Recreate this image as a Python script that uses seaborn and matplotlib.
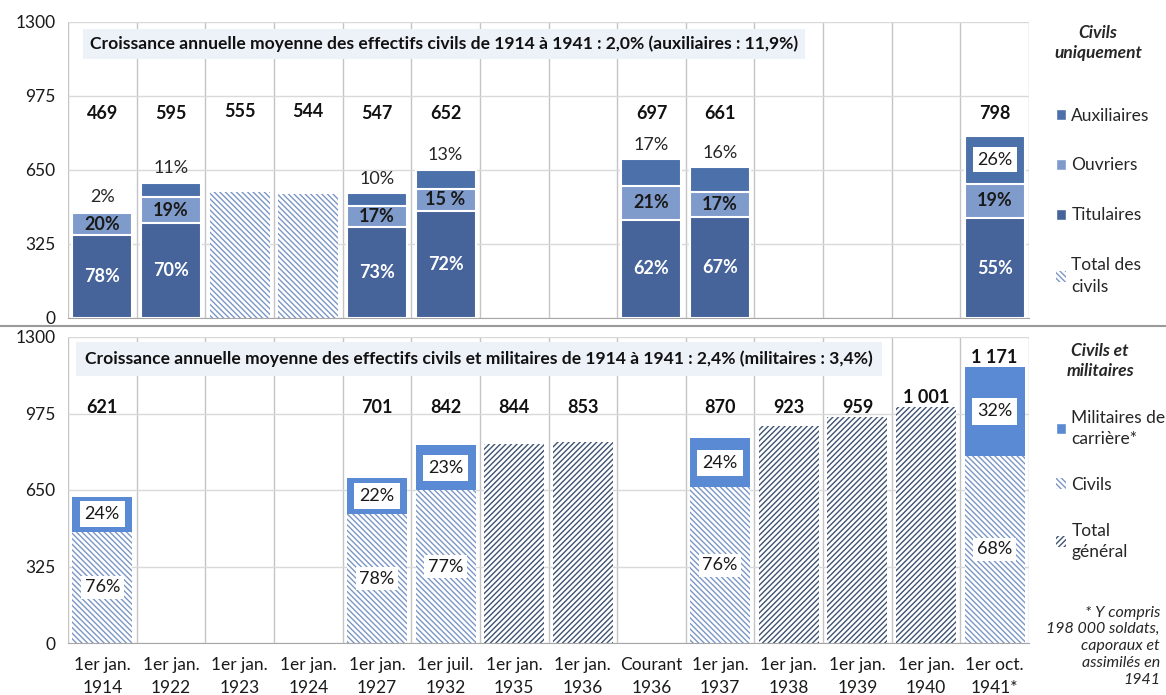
import matplotlib
matplotlib.use("Agg")
import matplotlib.pyplot as plt
import matplotlib.patches as mpatches
from matplotlib.lines import Line2D
import seaborn as sns
import pandas as pd
import numpy as np

sns.set_style("white")
plt.rcParams['font.family'] = ['Lato', 'DejaVu Sans']
plt.rcParams['hatch.linewidth'] = 1.0

# ---- data ----
categories = ["1er jan.\n1914", "1er jan.\n1922", "1er jan.\n1923", "1er jan.\n1924",
              "1er jan.\n1927", "1er juil.\n1932", "1er jan.\n1935", "1er jan.\n1936",
              "Courant\n1936", "1er jan.\n1937", "1er jan.\n1938", "1er jan.\n1939",
              "1er jan.\n1940", "1er oct.\n1941*"]

# top panel : civils uniquement
civ_cats = ["1er jan.\n1914", "1er jan.\n1922", "1er jan.\n1927", "1er juil.\n1932",
            "Courant\n1936", "1er jan.\n1937", "1er oct.\n1941*"]
civ_total = [469, 595, 547, 652, 697, 661, 798]
tit_pct = [78, 70, 73, 72, 62, 67, 55]
ouv_pct = [20, 19, 17, 15, 21, 17, 19]
aux_pct = [2, 11, 10, 13, 17, 16, 26]
ouv_labels = ["20%", "19%", "17%", "15 %", "21%", "17%", "19%"]
civ_only_cats = ["1er jan.\n1923", "1er jan.\n1924"]
civ_only_total = [555, 544]

# bottom panel : civils et militaires
mil_cats = ["1er jan.\n1914", "1er jan.\n1927", "1er juil.\n1932", "1er jan.\n1937", "1er oct.\n1941*"]
mil_total = [621, 701, 842, 870, 1171]
mil_pct = [24, 22, 23, 24, 32]
civ2_pct = [76, 78, 77, 76, 68]
gen_cats = ["1er jan.\n1935", "1er jan.\n1936", "1er jan.\n1938", "1er jan.\n1939", "1er jan.\n1940"]
gen_total = [844, 853, 923, 959, 1001]

# colours
c_tit = "#46639A"
c_ouv = "#7F9BCB"
c_aux = "#4C70AA"
c_mil = "#5A8AD4"
c_hatch_light = "#7B97C6"
c_hatch_dark = "#3E5272"
light_hatch = "\\" * 6
dark_hatch = "/" * 6

FS = 13        # labels in the bars
FT = 12.5      # ticks / legend


def fmt(v):
    return f"{v:,}".replace(",", " ")


def bars(ax, cats, vals, **kw):
    df = pd.DataFrame({"cat": cats, "val": vals})
    sns.barplot(data=df, x="cat", y="val", order=categories, ax=ax, width=0.875,
                errorbar=None, saturation=1, **kw)


fig = plt.figure(figsize=(11.66, 6.95), dpi=100)
ax1 = fig.add_axes([68 / 1166, 1 - 318 / 695, 961 / 1166, 296 / 695])
ax2 = fig.add_axes([68 / 1166, 1 - 643 / 695, 961 / 1166, 306 / 695])

pos = {c: i for i, c in enumerate(categories)}

# ---- top panel ----
tit = np.array(civ_total) * np.array(tit_pct) / 100
ouv = np.array(civ_total) * np.array(ouv_pct) / 100
bars(ax1, civ_cats, civ_total, color=c_aux, edgecolor="white", linewidth=1.5)
bars(ax1, civ_cats, tit + ouv, color=c_ouv, edgecolor="white", linewidth=1.5)
bars(ax1, civ_cats, tit, color=c_tit, edgecolor="white", linewidth=1.5)
bars(ax1, civ_only_cats, civ_only_total, color="white", edgecolor=c_hatch_light,
     linewidth=0, hatch=light_hatch)

for i, c in enumerate(civ_cats):
    x = pos[c]
    ax1.text(x, 900, fmt(civ_total[i]), ha="center", va="center", fontsize=FS,
             fontweight="bold", color="#111111")
    ax1.text(x, tit[i] / 2, f"{tit_pct[i]}%", ha="center", va="center", fontsize=FS,
             fontweight="bold", color="white")
    ax1.text(x, tit[i] + ouv[i] / 2, ouv_labels[i], ha="center", va="center", fontsize=FS,
             fontweight="bold", color="#1A1A1A")
    if aux_pct[i] > 20:
        aux = civ_total[i] - tit[i] - ouv[i]
        ax1.text(x, tit[i] + ouv[i] + aux / 2, f"{aux_pct[i]}%", ha="center", va="center",
                 fontsize=FS, color="#1A1A1A",
                 bbox=dict(boxstyle="square,pad=0.25", facecolor="white", edgecolor="none"))
    else:
        ax1.text(x, civ_total[i] + 62, f"{aux_pct[i]}%", ha="center", va="center",
                 fontsize=FS, color="#262626")
for i, c in enumerate(civ_only_cats):
    ax1.text(pos[c], 905, fmt(civ_only_total[i]), ha="center", va="center", fontsize=FS,
             fontweight="bold", color="#111111")

ax1.text(-0.18, 1203,
         "Croissance annuelle moyenne des effectifs civils de 1914 à 1941 : 2,0% (auxiliaires : 11,9%)",
         ha="left", va="center", fontsize=12.6, fontweight="bold", color="#111111",
         bbox=dict(boxstyle="square,pad=0.4", facecolor="#EDF1F8", edgecolor="none"))

# ---- bottom panel ----
civ2 = np.array(mil_total) * np.array(civ2_pct) / 100
bars(ax2, mil_cats, mil_total, color=c_mil, edgecolor=c_mil, linewidth=0)
bars(ax2, mil_cats, civ2, color="white", edgecolor=c_hatch_light, linewidth=0, hatch=light_hatch)
bars(ax2, gen_cats, gen_total, color="white", edgecolor=c_hatch_dark, linewidth=0, hatch=dark_hatch)

for i, c in enumerate(mil_cats):
    x = pos[c]
    ax2.text(x, max(1000, mil_total[i] + 42), fmt(mil_total[i]), ha="center", va="center",
             fontsize=FS, fontweight="bold", color="#111111")
    ax2.text(x, civ2[i] + (mil_total[i] - civ2[i]) / 2, f"{mil_pct[i]}%", ha="center",
             va="center", fontsize=FS, color="#1A1A1A",
             bbox=dict(boxstyle="square,pad=0.28", facecolor="white", edgecolor="none"))
    ax2.text(x, civ2[i] / 2, f"{civ2_pct[i]}%", ha="center", va="center", fontsize=FS,
             color="#1A1A1A",
             bbox=dict(boxstyle="square,pad=0.2", facecolor="white", edgecolor="none"))
for i, c in enumerate(gen_cats):
    ax2.text(pos[c], max(1000, gen_total[i] + 42), fmt(gen_total[i]), ha="center",
             va="center", fontsize=FS, fontweight="bold", color="#111111")

ax2.text(-0.25, 1206,
         "Croissance annuelle moyenne des effectifs civils et militaires de 1914 à 1941 : 2,4% (militaires : 3,4%)",
         ha="left", va="center", fontsize=12.6, fontweight="bold", color="#111111",
         bbox=dict(boxstyle="square,pad=0.5", facecolor="#EDF1F8", edgecolor="none"))

# ---- axes styling ----
for ax in (ax1, ax2):
    ax.set_xlim(-0.5, 13.5)
    ax.set_ylim(0, 1300)
    ax.set_yticks([0, 325, 650, 975, 1300])
    ax.set_xticks(np.arange(-0.5, 14, 1), minor=True)
    ax.grid(axis="y", color="#D9D9D9", lw=1)
    ax.grid(axis="x", which="minor", color="#C4C4C4", lw=1)
    ax.grid(axis="x", which="major", visible=False)
    ax.tick_params(axis="x", which="major", length=0, labelsize=FT, pad=10, colors="#1A1A1A")
    ax.tick_params(axis="x", which="minor", length=6, color="#C4C4C4")
    ax.tick_params(axis="y", length=5, color="#C4C4C4", labelsize=FT, pad=4, colors="#1A1A1A")
    for s in ["top", "right", "left"]:
        ax.spines[s].set_visible(False)
    ax.spines["bottom"].set_color("#A6A6A6")
    ax.set_axisbelow(True)
    ax.set_xlabel("")
    ax.set_ylabel("")

ax1.tick_params(axis="x", labelbottom=False)
for lab in ax2.get_xticklabels():
    lab.set_linespacing(1.55)

# separator line across the figure
fig.add_artist(Line2D([0, 1], [1 - 326 / 695] * 2, color="#9A9A9A", lw=1.5))

# ---- legends ----
h_top = [mpatches.Patch(facecolor=c_aux, label="Auxiliaires"),
         mpatches.Patch(facecolor=c_ouv, label="Ouvriers"),
         mpatches.Patch(facecolor=c_tit, label="Titulaires"),
         mpatches.Patch(facecolor="white", edgecolor=c_hatch_light, hatch=light_hatch, lw=0,
                        label="Total des\ncivils")]
leg1 = ax1.legend(handles=h_top, loc="upper left", bbox_to_anchor=(1040 / 1166, 1 - 92 / 695),
                  bbox_transform=fig.transFigure, frameon=False, fontsize=FT,
                  handlelength=0.6, handleheight=0.6, handletextpad=0.3, labelspacing=1.95)

h_bot = [mpatches.Patch(facecolor=c_mil, label="Militaires de\ncarrière*"),
         mpatches.Patch(facecolor="white", edgecolor=c_hatch_light, hatch=light_hatch, lw=0,
                        label="Civils"),
         mpatches.Patch(facecolor="white", edgecolor=c_hatch_dark, hatch=dark_hatch, lw=0,
                        label="Total\ngénéral")]
leg2 = ax2.legend(handles=h_bot, loc="upper left", bbox_to_anchor=(1040 / 1166, 1 - 394 / 695),
                  bbox_transform=fig.transFigure, frameon=False, fontsize=FT,
                  handlelength=0.6, handleheight=0.6, handletextpad=0.3, labelspacing=1.7)
for leg in (leg1, leg2):
    for t in leg.get_texts():
        t.set_linespacing(1.45)

fig.text(1098 / 1166, 1 - 43 / 695, "Civils\nuniquement", ha="center", va="center",
         fontsize=FT, fontweight="bold", fontstyle="italic", linespacing=1.3)
fig.text(1100 / 1166, 1 - 361 / 695, "Civils et\nmilitaires", ha="center", va="center",
         fontsize=FT, fontweight="bold", fontstyle="italic", linespacing=1.3)
fig.text(1160 / 1166, 1 - 646 / 695,
         "* Y compris\n198 000 soldats,\ncaporaux et\nassimilés en\n1941",
         ha="right", va="center", fontsize=11.5, fontstyle="italic", linespacing=1.25)

fig.savefig("out.png", dpi=100)
